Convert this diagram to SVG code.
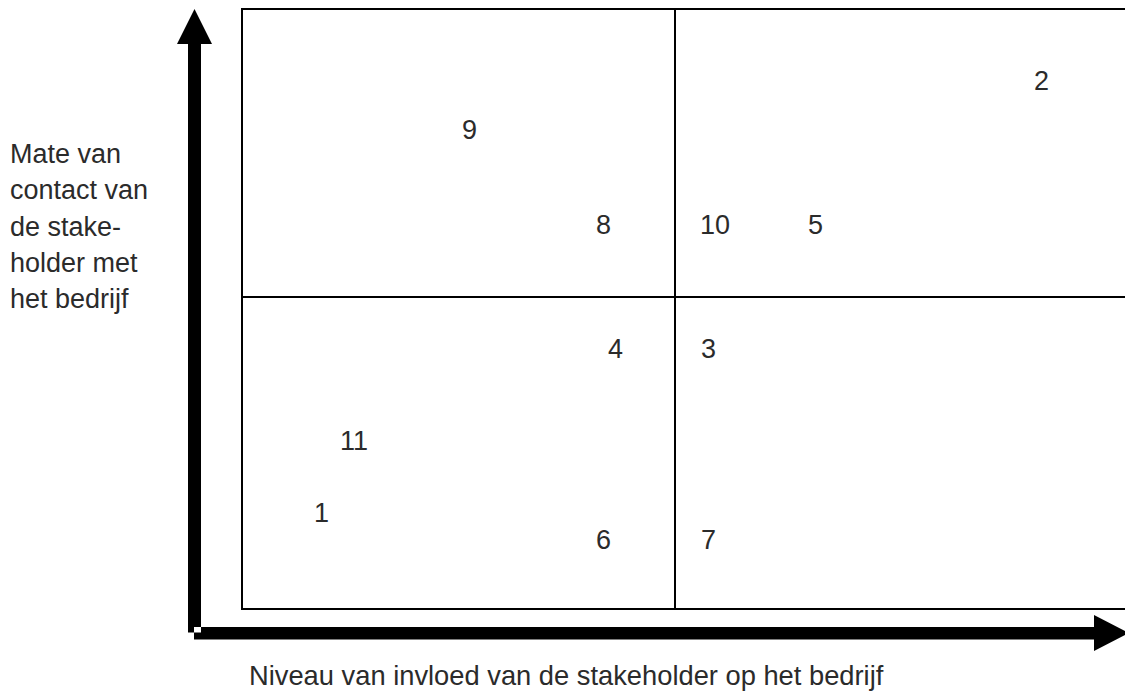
<svg xmlns="http://www.w3.org/2000/svg" width="1125" height="693" viewBox="0 0 1125 693">
<style>
.t{font-family:"Liberation Sans",Arial,sans-serif;font-size:27px;fill:#2b2b2b}
.ln{stroke:#000;stroke-width:2;fill:none}
.ax{fill:#000}
</style>
<rect width="1125" height="693" fill="#fff"/>
<g id="grid">
<rect class="ln" x="242" y="9" width="900" height="600"/>
<line class="ln" x1="675" y1="9" x2="675" y2="609"/>
<line class="ln" x1="242" y1="297" x2="1125" y2="297"/>
</g>
<g id="connectors">
<polygon id="axes" class="ax" points="194.5,9 212,44 201,44 201,627 194,627 194,639.5 1094,639.5 1094,651 1129,633 1094,615 1094,627 201,627 201,632.5 188,632.5 188,44 177,44"/>
</g>
<g id="labels">
<text class="t" x="10" y="163">Mate van</text>
<text class="t" x="10" y="199">contact van</text>
<text class="t" x="10" y="236">de stake-</text>
<text class="t" x="10" y="272">holder met</text>
<text class="t" x="10" y="308">het bedrijf</text>
<text class="t" x="249" y="685" style="font-size:27.3px">Niveau van invloed van de stakeholder op het bedrijf</text>
</g>
<g id="n2"><text class="t" x="1034" y="90">2</text></g>
<g id="n9"><text class="t" x="462" y="139">9</text></g>
<g id="n8"><text class="t" x="596" y="234">8</text></g>
<g id="n10"><text class="t" x="700" y="234">10</text></g>
<g id="n5"><text class="t" x="808" y="234">5</text></g>
<g id="n4"><text class="t" x="608" y="358">4</text></g>
<g id="n3"><text class="t" x="701" y="358">3</text></g>
<g id="n11"><text class="t" x="340" y="450">11</text></g>
<g id="n1"><text class="t" x="314" y="522">1</text></g>
<g id="n6"><text class="t" x="596" y="549">6</text></g>
<g id="n7"><text class="t" x="701" y="549">7</text></g>
</svg>
